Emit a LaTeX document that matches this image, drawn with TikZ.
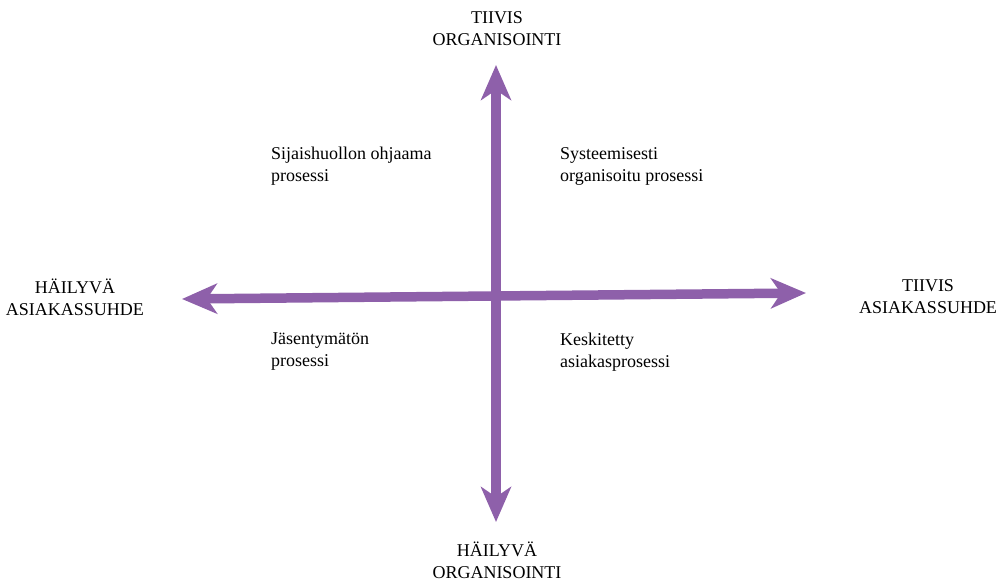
\documentclass[tikz,border=0pt]{standalone}
\usepackage{fontspec}
\setmainfont{Liberation Serif}
\usetikzlibrary{arrows.meta}
\definecolor{violetti}{RGB}{142,96,170}
\tikzset{
  akseli/.style={draw=violetti, line width=9.5pt,
    {Stealth[length=35pt,width=30pt,inset=10pt]}-{Stealth[length=35pt,width=30pt,inset=10pt]}},
  paateksti/.style={align=center, font=\fontsize{18}{22}\selectfont, inner sep=0pt},
  lohkoteksti/.style={align=left, anchor=north west, font=\fontsize{18}{22}\selectfont, inner sep=0pt}
}
\begin{document}
\begin{tikzpicture}[x=1pt, y=-1pt]
\useasboundingbox (0,0) rectangle (1003,583);

% Akselien paatepisteet
\coordinate (ylos) at (496,65);
\coordinate (alas) at (496,522);
\coordinate (vasen) at (182,299);
\coordinate (oikea) at (806,293);

\draw[akseli] (alas) -- (ylos);
\draw[akseli] (vasen) -- (oikea);

% Akselien nimet
\node[paateksti] (tiivisorg) at (497,29) {TIIVIS\\ORGANISOINTI};
\node[paateksti] (hailyvaorg) at (497,560) {HÄILYVÄ\\ORGANISOINTI};
\node[paateksti] (hailyvaasi) at (75,297) {HÄILYVÄ\\ASIAKASSUHDE};
\node[paateksti] (tiivisasi) at (928,297) {TIIVIS\\ASIAKASSUHDE};

% Nelikentan lohkot
\node[lohkoteksti] (sijais) at (271,147) {Sijaishuollon ohjaama\\prosessi};
\node[lohkoteksti] (systeem) at (560,147) {Systeemisesti\\organisoitu prosessi};
\node[lohkoteksti] (jasent) at (271,333) {Jäsentymätön\\prosessi};
\node[lohkoteksti] (keskit) at (560,333) {Keskitetty\\asiakasprosessi};

\end{tikzpicture}
\end{document}
